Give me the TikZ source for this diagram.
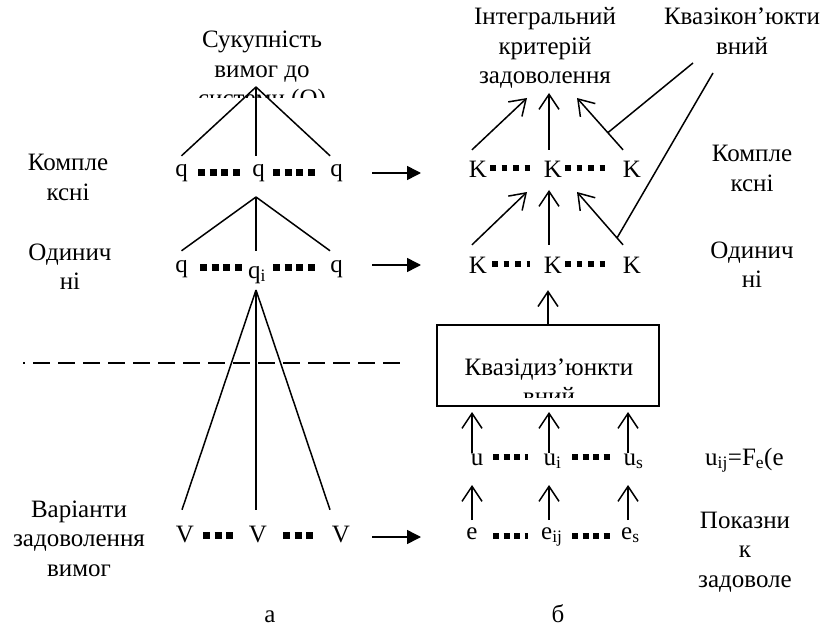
\documentclass[tikz,border=0pt]{standalone}
\usepackage{fontspec}
\setmainfont{Liberation Serif}
\usetikzlibrary{arrows.meta,calc}
\newcommand{\ml}[1]{\begin{tabular}[t]{@{}c@{}}#1\end{tabular}}
\begin{document}
\begin{tikzpicture}[x=1pt,y=-1pt,
  every node/.style={inner sep=0pt, font=\fontsize{25}{29.5}\selectfont},
  lbl/.style={anchor=base},
  symq/.style={anchor=base, text height=21pt, text depth=6pt},
  symv/.style={anchor=base, text height=32pt, text depth=6pt},
  symk/.style={anchor=base, text height=28pt, text depth=14pt},
  ln/.style={line width=1.5pt},
  fwd/.style={line width=1.5pt, -{Triangle[length=14pt,width=14pt]}},
  uparr/.style={line width=1.5pt, -{Straight Barb[length=15pt,width=20pt]}},
  sqa/.style={line width=7pt, dash pattern=on 7pt off 4.67pt},
  sqb/.style={line width=7pt, dash pattern=on 7pt off 4.5pt},
  sqk/.style={line width=5.5pt, dash pattern=on 5.5pt off 6pt},
  squ/.style={line width=6pt, dash pattern=on 6pt off 4.5pt},
]
\useasboundingbox (0,0) rectangle (834,628);

% ---------- left part (a) ----------
\begin{scope}
  \clip (140,0) rectangle (390,98);
  \node[lbl] (sukup) at (262,48) {\ml{Сукупність\\вимог до\\системи (Q)}};
\end{scope}

\node[lbl] (lk) at (68,171) {\ml{Компле\\ксні}};
\node[lbl] (lo) at (70,260) {\ml{Одинич\\ні}};
\node[lbl] (lv) at (79,517) {\ml{Варіанти\\задоволення\\вимог}};

\node[symq] (q1) at (181.5,177) {q};
\node[symq] (q2) at (258.5,177) {q};
\node[symq] (q3) at (336.5,177) {q};
\node[symq] (q4) at (181.5,272) {q};
\node[anchor=base west] (q5) at (248,278) {q\textsubscript{i}};
\node[symq] (q6) at (336.5,272) {q};

\node[symv] (v1) at (185,542) {V};
\node[symv] (v2) at (258,542) {V};
\node[symv] (v3) at (341,542) {V};

\coordinate (ap1) at (256,87);
\coordinate (ap2) at (256,197);
\coordinate (ap3) at (256,290);

\draw[ln] (ap1) -- (q1.north);
\draw[ln] (ap1) -- (ap1 |- q1.north);
\draw[ln] (ap1) -- (q3.north west);
\draw[ln] (ap2) -- (q4.north);
\draw[ln] (ap2) -- (ap2 |- q4.north);
\draw[ln] (ap2) -- (q6.north west);
\draw[ln] (ap3) -- ([xshift=-3pt]v1.north);
\draw[ln] (ap3) -- (ap3 |- v2.north);
\draw[ln] (ap3) -- ([xshift=-11pt]v3.north);

\draw[sqa] (198,173) -- (240,173);
\draw[sqa] (273,173) -- (315,173);
\draw[sqa] (200,267) -- (242,267);
\draw[sqa] (273,267) -- (315,267);
\draw[sqb] (203,535) -- (233,535);
\draw[sqb] (283,535) -- (313,535);

\draw[line width=1.2pt, dash pattern=on 17pt off 8pt, dash phase=15pt] (23,363) -- (400,363);

\coordinate (f1s) at (372,173); \coordinate (f1e) at (421,173);
\coordinate (f2s) at (372,265); \coordinate (f2e) at (421,265);
\coordinate (f3s) at (372,537); \coordinate (f3e) at (421,537);
\draw[fwd] (f1s) -- (f1e);
\draw[fwd] (f2s) -- (f2e);
\draw[fwd] (f3s) -- (f3e);

\node[lbl] (la) at (270,622) {а};

% ---------- right part (b) ----------
\node[lbl] (integ) at (545,25) {\ml{Інтегральний\\критерій\\задоволення}};
\node[lbl] (kvk) at (742,25) {\ml{Квазікон’юкти\\вний}};

\node[symk] (k1) at (478,178) {K};
\node[symk] (k2) at (553,178) {K};
\node[symk] (k3) at (632,178) {K};
\node[symk] (k4) at (478,273) {K};
\node[symk] (k5) at (553,273) {K};
\node[symk] (k6) at (632,273) {K};

\draw[sqk] (490,168) -- (530,168);
\draw[sqk] (565,168) -- (607,168);
\draw[sqk] (492,264) -- (530,264);
\draw[sqk] (565,264) -- (607,264);

\coordinate (t1) at (527,98);
\coordinate (t2) at (549,93);
\coordinate (t3) at (577,98);
\draw[uparr] ([xshift=-6pt]k1.north) -- (t1);
\draw[uparr] ([xshift=-4pt]k2.north) -- (t2);
\draw[uparr] ([xshift=-9pt]k3.north) -- (t3) coordinate[pos=0.33] (m1);

\coordinate (s1) at (527,192);
\coordinate (s2) at (549,190);
\coordinate (s3) at (577,192);
\draw[uparr] ([xshift=-6pt]k4.north) -- (s1);
\draw[uparr] ([xshift=-4pt]k5.north) -- (s2);
\draw[uparr] ([xshift=-9pt]k6.north) -- (s3) coordinate[pos=0.13] (m2);

\coordinate (c1) at (693,63);
\coordinate (c2) at (713,73);
\draw[ln] (m1) -- (c1);
\draw[ln] (m2) -- (c2);

\node[draw, line width=1.5pt, minimum width=222pt, minimum height=81pt] (box) at (548,365.5) {};
\begin{scope}
  \clip (440,328) rectangle (656,397);
  \node[lbl] (boxtxt) at (549,375) {\ml{Квазідиз’юнкти\\вний}};
\end{scope}
\draw[uparr] (box.north) -- ([yshift=-3pt]box.north |- k5.south);

\node[anchor=base] (u1) at (477,465) {u};
\node[anchor=base west] (u2) at (543.5,465) {u\textsubscript{i}};
\node[anchor=base west] (u3) at (623.5,465) {u\textsubscript{s}};
\draw[squ] (493,457) -- (528,457);
\draw[squ] (572,457) -- (612,457);

\node[anchor=base] (e1) at (472,539) {e};
\node[anchor=base west] (e2) at (541,539) {e\textsubscript{ij}};
\node[anchor=base west] (e3) at (621,539) {e\textsubscript{s}};
\draw[squ] (493,536) -- (528,536);
\draw[squ] (572,536) -- (612,536);

\coordinate (ua1) at (472,453); \coordinate (ub1) at (472,412);
\coordinate (ua2) at (549,453); \coordinate (ub2) at (549,412);
\coordinate (ua3) at (628,453); \coordinate (ub3) at (628,412);
\draw[uparr] (ua1) -- (ub1);
\draw[uparr] (ua2) -- (ub2);
\draw[uparr] (ua3) -- (ub3);

\coordinate (ea1) at (472,520); \coordinate (eb1) at (472,485);
\coordinate (ea2) at (549,520); \coordinate (eb2) at (549,485);
\coordinate (ea3) at (628,520); \coordinate (eb3) at (628,485);
\draw[uparr] (ea1) -- (eb1);
\draw[uparr] (ea2) -- (eb2);
\draw[uparr] (ea3) -- (eb3);

\node[lbl] (rk) at (752,162) {\ml{Компле\\ксні}};
\node[lbl] (ro) at (752,258) {\ml{Одинич\\ні}};
\node[anchor=base west] (uf) at (705,465) {u\textsubscript{ij}=F\textsubscript{e}(e};
\node[lbl] (rp) at (745,528) {\ml{Показни\\к\\задоволе}};

\node[lbl] (lb) at (558,622) {б};
\end{tikzpicture}
\end{document}
